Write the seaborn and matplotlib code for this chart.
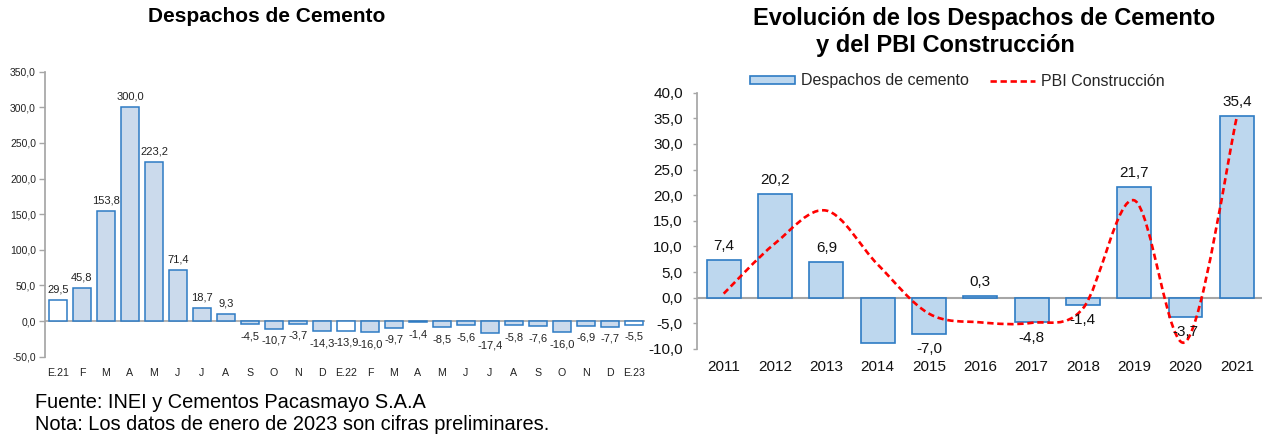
import pandas as pd
import seaborn as sns
import matplotlib.pyplot as plt
from matplotlib.path import Path
from matplotlib.patches import PathPatch, Patch
from matplotlib.lines import Line2D

# Datos: despachos mensuales (var. % interanual)
meses = ['E.21', 'F', 'M', 'A', 'M', 'J', 'J', 'A', 'S', 'O', 'N', 'D',
         'E.22', 'F', 'M', 'A', 'M', 'J', 'J', 'A', 'S', 'O', 'N', 'D', 'E.23']
despachos_mes = [29.5, 45.8, 153.8, 300.0, 223.2, 71.4, 18.7, 9.3, -4.5, -10.7, -3.7, -14.3,
                 -13.9, -16.0, -9.7, -1.4, -8.5, -5.6, -17.4, -5.8, -7.6, -16.0, -6.9, -7.7, -5.5]
es_enero = [m.startswith('E.') for m in meses]

# Datos: evolución anual
anios = ['2011', '2012', '2013', '2014', '2015', '2016', '2017', '2018', '2019', '2020', '2021']
despachos_anual = [7.4, 20.2, 6.9, -8.8, -7.0, 0.3, -4.8, -1.4, 21.7, -3.7, 35.4]
etiquetas_anual = ['7,4', '20,2', '6,9', '', '-7,0', '0,3', '-4,8', '-1,4', '21,7', '-3,7', '35,4']
pbi_construccion = [0.8, 10.6, 17.0, 6.5, -3.1, -4.8, -4.9, -2.1, 19.0, -8.6, 35.3]

sns.set_theme(style='white')
plt.rcParams['font.family'] = ['Liberation Sans', 'DejaVu Sans']

gris = '#A6A6A6'
azul_borde = '#2E7BC4'
azul_relleno = '#C5D9F1'


def fmt(v):
    return f'{v:.1f}'.replace('.', ',')


fig = plt.figure(figsize=(12.65, 4.38), dpi=100)

# ---------------- Gráfico izquierdo ----------------
ax1 = fig.add_axes([45 / 1265, 1 - 356.7 / 438, 600 / 1265, 285 / 438])
df1 = pd.DataFrame({
    'clave': [f'{m}_{i}' for i, m in enumerate(meses)],
    'valor': despachos_mes,
    'tipo': ['enero' if e else 'mes' for e in es_enero],
})
sns.barplot(data=df1, x='clave', y='valor', hue='tipo',
            palette={'enero': 'white', 'mes': azul_relleno},
            dodge=False, width=0.78, edgecolor=azul_borde, linewidth=1.1,
            legend=False, ax=ax1)
ax1.set_xlim(-0.54, 24.46)
ax1.set_ylim(-50, 350)
ax1.set_yticks(range(-50, 351, 50))
ax1.set_yticklabels([fmt(v) for v in range(-50, 351, 50)])
ax1.set_xticks(range(len(meses)))
ax1.set_xticklabels(meses)
ax1.set_xlabel('')
ax1.set_ylabel('')
ax1.axhline(0, color=gris, lw=1.2, zorder=0.5)
for s in ['top', 'right', 'bottom']:
    ax1.spines[s].set_visible(False)
ax1.spines['left'].set_color(gris)
ax1.tick_params(axis='y', left=True, length=4, width=1, color=gris, pad=2.5,
                labelsize=7.5, colors='#222222')
ax1.tick_params(axis='x', length=0, pad=8, labelsize=7.7, colors='#222222')
for i, v in enumerate(despachos_mes):
    ax1.annotate(fmt(v), (i, v), xytext=(0, 4 if v >= 0 else -5), textcoords='offset points',
                 ha='center', va='bottom' if v >= 0 else 'top', fontsize=8, color='#222222')

# ---------------- Gráfico derecho ----------------
ax2 = fig.add_axes([696.7 / 1265, 1 - 349 / 438, (1262 - 696.7) / 1265, (349 - 92.7) / 438])
df2 = pd.DataFrame({'anio': anios, 'valor': despachos_anual})
sns.barplot(data=df2, x='anio', y='valor', color='#BDD7EE', saturation=1,
            width=0.66, edgecolor=azul_borde, linewidth=1.2, ax=ax2)
for p in ax2.patches:
    p.set_facecolor('#BDD7EE')
ax2.set_xlim(-0.526, 10.49)
ax2.set_ylim(-10, 40)
ax2.set_yticks(range(-10, 41, 5))
ax2.set_yticklabels([fmt(v) for v in range(-10, 41, 5)])
ax2.set_xlabel('')
ax2.set_ylabel('')
ax2.axhline(0, color=gris, lw=1.5, zorder=0.5)
for s in ['top', 'right', 'bottom']:
    ax2.spines[s].set_visible(False)
ax2.spines['left'].set_color(gris)
ax2.tick_params(axis='y', left=True, length=3, width=1, color=gris, pad=7,
                labelsize=11, colors='#111111')
ax2.tick_params(axis='x', length=0, pad=8, labelsize=11, colors='#111111')
for i, (v, t) in enumerate(zip(despachos_anual, etiquetas_anual)):
    if t:
        ax2.annotate(t, (i, v), xytext=(0, 5 if v >= 0 else -6), textcoords='offset points',
                     ha='center', va='bottom' if v >= 0 else 'top', fontsize=11,
                     color='#111111', zorder=5)

# línea suavizada (Bezier tipo Catmull-Rom, como el suavizado de Excel)
pts = list(zip(range(len(pbi_construccion)), pbi_construccion))
verts = [pts[0]]
codes = [Path.MOVETO]
for i in range(len(pts) - 1):
    p0 = pts[i - 1] if i > 0 else pts[i]
    p1 = pts[i]
    p2 = pts[i + 1]
    p3 = pts[i + 2] if i + 2 < len(pts) else pts[i + 1]
    c1 = (p1[0] + (p2[0] - p0[0]) / 6, p1[1] + (p2[1] - p0[1]) / 6)
    c2 = (p2[0] - (p3[0] - p1[0]) / 6, p2[1] - (p3[1] - p1[1]) / 6)
    verts += [c1, c2, p2]
    codes += [Path.CURVE4] * 3
ax2.add_patch(PathPatch(Path(verts, codes), fill=False, edgecolor='#FF0000', lw=1.9,
                        linestyle=(0, (2.4, 1.4)), zorder=4, capstyle='butt'))

handles = [Patch(facecolor='#BDD7EE', edgecolor=azul_borde, lw=1.2),
           Line2D([], [], color='#FF0000', lw=1.9, linestyle=(0, (2.4, 1.4)))]
fig.legend(handles, ['Despachos de cemento', 'PBI Construcción'], loc='center',
           bbox_to_anchor=(957 / 1265, 1 - 81 / 438), ncol=2, frameon=False,
           fontsize=11.5, handlelength=2.85, handleheight=0.4, handletextpad=0.35,
           columnspacing=1.3, borderpad=0)

# ---------------- Títulos y notas ----------------
fig.text(267 / 1265, 1 - 17 / 438, 'Despachos de Cemento', ha='center', va='center',
         fontsize=15, weight='bold', color='black')
fig.text(984 / 1265, 1 - 18.5 / 438, 'Evolución de los Despachos de Cemento', ha='center',
         va='center', fontsize=17, weight='bold', color='black')
fig.text(945 / 1265, 1 - 45.5 / 438, 'y del PBI Construcción', ha='center',
         va='center', fontsize=17, weight='bold', color='black')
fig.text(35 / 1265, 1 - 402 / 438, 'Fuente: INEI y Cementos Pacasmayo S.A.A', ha='left',
         va='center', fontsize=14.4, color='black')
fig.text(35 / 1265, 1 - 425 / 438, 'Nota: Los datos de enero de 2023 son cifras preliminares.',
         ha='left', va='center', fontsize=14.4, color='black')

fig.savefig('out.png', dpi=100)
